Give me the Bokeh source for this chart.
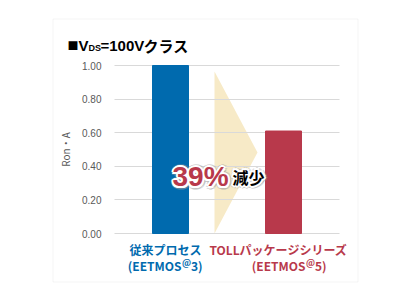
from bokeh.plotting import figure
from bokeh.models import (ColumnDataSource, Range1d, Label, BoxAnnotation,
                          FixedTicker, NumeralTickFormatter)
from bokeh.embed import file_html
from bokeh.resources import INLINE

# ---- data ----
categories = ["従来プロセス", "TOLLパッケージシリーズ"]
sub_prefix = ["(EETMOS", "(EETMOS"]
sub_sup = ["@", "@"]
sub_suffix = ["3)", "5)"]
values = [1.00, 0.61]
y_ticks = [0.0, 0.2, 0.4, 0.6, 0.8, 1.0]
y_label = "Ron・A"
title_parts = ["■", "V", "DS", "=100V", "クラス"]
reduction_pct = "39%"
reduction_word = "減少"

BLUE = "#006AAE"
RED = "#B8394B"
GRAY = "#595959"
GRID = "#D9D9D9"
BEIGE = "#F7EAC7"
colors = [BLUE, RED]

LATIN = "Liberation Sans"
CJK = "Noto Sans CJK JP"

# pixel -> data helpers (frame spans the full 400x300 canvas)
PX_X = 113.0   # pixels per category slot
PX_Y = 168.0   # pixels per 1.0 on y
def dx(px):
    return 0.5 + (px - 170.0) / PX_X
def dy(py):
    return (233.0 - py) / PX_Y

xpos = [i + 0.5 for i in range(len(categories))]

p = figure(width=400, height=300, x_range=Range1d(dx(0), dx(400)),
           y_range=Range1d(dy(300), dy(0)), output_backend="svg", toolbar_location=None,
           min_border=0, min_border_left=0, min_border_right=0,
           min_border_top=0, min_border_bottom=0)
p.outline_line_color = None
p.background_fill_color = "white"
p.border_fill_color = "white"

# outer border
p.add_layout(BoxAnnotation(left=dx(52.5), right=dx(357.5), bottom=dy(281.5), top=dy(18.5),
                           fill_alpha=0, line_color=GRID, line_width=1, level="underlay"))

# axes / grid
p.xaxis.visible = False
p.xgrid.grid_line_color = None
p.ygrid.grid_line_color = GRID
p.ygrid.grid_line_width = 1
p.ygrid.ticker = FixedTicker(ticks=y_ticks)
p.ygrid.cross_bounds = (dx(114), dx(339))
ya = p.yaxis[0]
ya.fixed_location = dx(114)
ya.bounds = (y_ticks[0], y_ticks[-1])
ya.ticker = FixedTicker(ticks=y_ticks)
ya.formatter = NumeralTickFormatter(format="0.00")
ya.axis_line_color = None
ya.major_tick_line_color = None
ya.minor_tick_line_color = None
ya.major_tick_out = 0
ya.major_tick_in = 0
ya.major_label_standoff = 13
ya.major_label_text_color = GRAY
ya.major_label_text_font = LATIN
ya.major_label_text_font_size = "10px"
ya.axis_label = y_label
ya.axis_label_text_color = GRAY
ya.axis_label_text_font = CJK
ya.axis_label_text_font_size = "10px"
ya.axis_label_text_font_style = "normal"
ya.axis_label_standoff = 6

# arrow (decorative)
p.patch(x=[dx(214), dx(257), dx(214)], y=[dy(71), dy(152), 0.0],
        fill_color=BEIGE, line_color=None, level="underlay")

src = ColumnDataSource(dict(x=xpos, cat=categories, val=values, col=colors))
p.vbar(x="x", top="val", width=36.0 / PX_X, color="col", source=src)

def lab(text, px, py, font, size, color="black", align="left", baseline="alphabetic", style="bold", **kw):
    p.add_layout(Label(x=dx(px), y=dy(py), text=text, text_font=font, text_font_size=f"{size}px",
                       text_color=color, text_align=align, text_baseline=baseline,
                       text_font_style=style, **kw))

# title
lab(title_parts[0], 67, 44.5, CJK, 11, style="normal")
lab(title_parts[1], 78, 44.5, LATIN, 15)
lab(title_parts[2], 88, 47, LATIN, 9)
lab(title_parts[3], 100, 44.5, LATIN, 15)
lab(title_parts[4], 143, 44.5, CJK, 15)

# category labels
line2_left = [131, 255]
for i, c in enumerate(categories):
    cx = 170 + (xpos[i] - 0.5) * PX_X
    lab(c, cx - 5, 249, CJK, 12, color=colors[i], align="center", baseline="middle")
    a = line2_left[i] + 50
    lab(sub_prefix[i], a, 265, CJK, 12, color=colors[i], align="right", baseline="middle")
    lab(sub_sup[i], a + 0.5, 261.5, CJK, 9, color=colors[i], align="left", baseline="middle")
    lab(sub_suffix[i], a + 9.5, 265, CJK, 12, color=colors[i], align="left", baseline="middle")

# reduction text with halo
offs = [(-2, 0), (2, 0), (0, -2), (0, 2), (-1.5, -1.5), (1.5, 1.5), (-1.5, 1.5), (1.5, -1.5)]
for ox, oy in offs:
    lab(reduction_pct, 172, 176, LATIN, 28, color="#9A9A9A", x_offset=ox * 1.6 + 0.5, y_offset=oy * 1.6 - 0.5, text_alpha=0.35)
    lab(reduction_word, 232, 176, CJK, 16, color="#9A9A9A", x_offset=ox * 1.6 + 0.5, y_offset=oy * 1.6 - 0.5, text_alpha=0.35)
for ox, oy in offs:
    lab(reduction_pct, 172, 176, LATIN, 28, color="white", x_offset=ox, y_offset=oy)
    lab(reduction_word, 232, 176, CJK, 16, color="white", x_offset=ox, y_offset=oy)
lab(reduction_pct, 172, 176, LATIN, 28, color=RED)
lab(reduction_word, 232, 176, CJK, 16, color="black")

open("out.html", "w").write(file_html(p, INLINE))
